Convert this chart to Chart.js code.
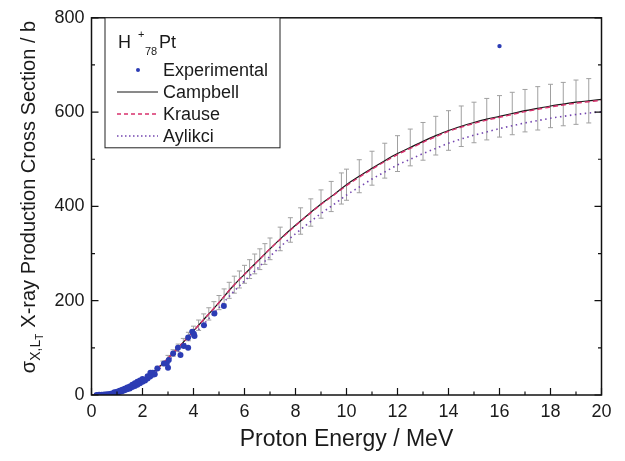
<!DOCTYPE html>
<html>
<head>
<meta charset="utf-8">
<script src="https://cdn.jsdelivr.net/npm/chart.js@4.4.1/dist/chart.umd.min.js"></script>
<style>
html,body{margin:0;padding:0;background:#fff;}
#wrap{width:625px;height:461px;position:relative;}
</style>
</head>
<body>
<div id="wrap"><canvas id="c" width="625" height="461"></canvas></div>
<script>
// ---- data ----
const energies = [0,0.5,1,1.5,2,2.5,3,3.5,4,4.5,5,5.5,6,6.5,7,7.5,8,8.5,9,9.5,10,10.5,11,11.5,12,12.5,13,13.5,14,14.5,15,15.5,16,16.5,17,17.5,18,18.5,19,19.5,20];
const campbell = [0,1,6,16,32,52,78,106,136,166,196,228,256,283,310,336,360,383,405,425,446,464,481,497,512,525,538,550,561,570,578,585,591,597,603,608,613,617,621,624,627];
const krause   = [0,1,6,16,32,52,78,106,136,166,196,228,256,283,310,335,359,382,404,424,444,462,479,495,510,523,536,548,559,568,576,583,589,595,601,606,611,615,619,622,625];
const aylikci  = [0,1,5,14,29,48,72,99,127,156,185,215,242,268,294,319,342,364,385,404,424,441,458,473,488,500,512,523,534,543,551,558,565,571,577,582,587,591,595,598,601];

const expX = [0.2,0.3,0.4,0.5,0.6,0.7,0.8,0.9,1.0,1.1,1.2,1.3,1.4,1.5,1.6,1.7,1.8,1.9,2.0,2.1,2.2,2.3,2.4,
              0.9,1.0,1.1,1.2,1.3,1.4,1.5,1.6,1.7,1.8,1.9,2.0,2.2,2.4,
              2.05,2.31,2.48,2.58,2.84,2.95,3.0,3.03,3.2,3.39,3.49,3.62,3.79,3.79,3.95,4.01,4.04,4.41,4.82,5.19,16.0];
const expY = [0,0.3,0.6,1,1.5,2.2,3,4,5,6.5,8,10,12,14,17,19,22,25,28,31,35,39,43,
              6,7,9,11,13,16,18,22,25,28,31,34,40,47,
              32,47,44,56,67,67,58,74,88,100,85,104,100,122,134,130,125,148,173,189,740];

const errX    = [1.6,1.8,2.0,2.2,2.4,2.6,2.8,3.0,3.2,3.4,3.6,3.8,4.0,4.2,4.4,4.6,4.8,5.0,5.2,5.4,5.6,5.8,6.0,6.2,6.4,6.6,6.8,7.0,7.4,7.8,8.2,8.6,9.0,9.4,9.8,10.0,10.5,11,11.5,12,12.5,13,13.5,14,14.5,15,15.5,16,16.5,17,17.5,18,18.5,19,19.5];
const errLow  = [20,27,30,37,44,53,62,72,82,92,104,115,126,137,148,159,170,181,193,205,216,227,237,247,257,266,277,287,306,324,341,358,375,389,405,413,429,445,460,474,486,498,509,519,527,535,541,547,552,558,562,567,571,574,577];
const errHigh = [24,31,34,43,52,61,72,84,96,108,120,133,146,159,172,185,198,211,225,239,252,263,275,287,299,310,321,333,356,376,397,416,435,453,471,479,499,517,534,550,564,578,591,603,613,621,629,635,642,648,654,659,663,668,671];

const xTicks = [0,2,4,6,8,10,12,14,16,18,20];
const yTicks = [0,200,400,600,800];

const legendNames = ['Experimental','Campbell','Krause','Aylikci'];

// ---- styles ----
const FONT = '"Liberation Sans", Arial, sans-serif';
const C_EXP = '#2c3cb4';
const C_CAM = '#151515';
const C_KRA = '#d8306c';
const C_AYL = '#7446b0';
const C_ERR = '#a0a0a0';

const pts = (xs, ys) => xs.map((x, i) => ({x: x, y: ys[i]}));

const errorBars = {
  id: 'errorBars',
  beforeDatasetsDraw(chart) {
    const {ctx, scales: {x, y}, chartArea} = chart;
    ctx.save();
    ctx.beginPath();
    ctx.rect(chartArea.left, chartArea.top, chartArea.right - chartArea.left, chartArea.bottom - chartArea.top);
    ctx.clip();
    ctx.strokeStyle = C_ERR;
    ctx.lineWidth = 1;
    errX.forEach((e, i) => {
      const px = x.getPixelForValue(e);
      const y1 = y.getPixelForValue(errLow[i]);
      const y2 = y.getPixelForValue(errHigh[i]);
      ctx.beginPath();
      ctx.moveTo(px, y1); ctx.lineTo(px, y2);
      ctx.moveTo(px - 2.5, y1); ctx.lineTo(px + 2.5, y1);
      ctx.moveTo(px - 2.5, y2); ctx.lineTo(px + 2.5, y2);
      ctx.stroke();
    });
    ctx.restore();
  }
};

const frameAndDecor = {
  id: 'frameAndDecor',
  afterDraw(chart) {
    const {ctx, scales: {x, y}, chartArea: a} = chart;
    ctx.save();
    // ticks (inward)
    ctx.strokeStyle = '#111';
    ctx.lineWidth = 1.2;
    for (let v = 0; v <= 20; v += 1) {
      const px = x.getPixelForValue(v);
      const len = (v % 2 === 0) ? 7 : 3.5;
      ctx.beginPath();
      ctx.moveTo(px, a.bottom); ctx.lineTo(px, a.bottom - len);
      ctx.stroke();
    }
    for (let v = 0; v <= 800; v += 100) {
      const py = y.getPixelForValue(v);
      const len = (v % 200 === 0) ? 7 : 3.5;
      ctx.beginPath();
      ctx.moveTo(a.left, py); ctx.lineTo(a.left + len, py);
      ctx.moveTo(a.right, py); ctx.lineTo(a.right - len, py);
      ctx.stroke();
    }
    // frame
    ctx.lineWidth = 1.5;
    ctx.strokeStyle = '#111';
    ctx.strokeRect(a.left, a.top, a.right - a.left, a.bottom - a.top);

    // x title
    ctx.fillStyle = '#1a1a1a';
    ctx.font = '23px ' + FONT;
    ctx.textAlign = 'center';
    ctx.textBaseline = 'middle';
    ctx.fillText('Proton Energy / MeV', (a.left + a.right) / 2, 440);

    // y title with subscripts
    ctx.save();
    ctx.translate(35, 0);
    ctx.rotate(-Math.PI / 2);
    ctx.textAlign = 'left';
    ctx.textBaseline = 'alphabetic';
    const mainTxt = 'X-ray Production Cross Section / b';
    ctx.font = '20px ' + FONT;
    const wSig = ctx.measureText('σ').width;
    const wMain = ctx.measureText(mainTxt).width;
    ctx.font = '14px ' + FONT;
    const wSub = ctx.measureText('X,L').width;
    ctx.font = '10px ' + FONT;
    const wT = ctx.measureText('T').width;
    const gap = 6;
    const total = wSig + wSub + wT + gap + wMain;
    let sx = -197 - total / 2;
    ctx.font = '20px ' + FONT;
    ctx.fillText('σ', sx, 0); sx += wSig;
    ctx.font = '14px ' + FONT;
    ctx.fillText('X,L', sx, 5); sx += wSub;
    ctx.font = '10px ' + FONT;
    ctx.fillText('T', sx, 8); sx += wT + gap;
    ctx.font = '20px ' + FONT;
    ctx.fillText(mainTxt, sx, 0);
    ctx.restore();

    // legend box
    const bx = 105, by = a.top, bw = 175, bh = 130;
    ctx.fillStyle = '#fff';
    ctx.fillRect(bx, by, bw, bh);
    ctx.lineWidth = 1;
    ctx.strokeStyle = '#222';
    ctx.strokeRect(bx, by, bw, bh);
    ctx.fillStyle = '#1a1a1a';
    ctx.textAlign = 'left';
    ctx.textBaseline = 'alphabetic';
    ctx.font = '18px ' + FONT;
    ctx.fillText('H', 118, 48);
    ctx.font = '11px ' + FONT;
    ctx.fillText('+', 138, 38);
    ctx.fillText('78', 145, 55);
    ctx.font = '18px ' + FONT;
    ctx.fillText('Pt', 159, 48);

    const rows = [70, 92, 114, 136];
    ctx.textBaseline = 'middle';
    ctx.font = '18px ' + FONT;
    legendNames.forEach((n, i) => ctx.fillText(n, 163, rows[i] + 1));
    ctx.fillStyle = C_EXP;
    ctx.beginPath(); ctx.arc(138, rows[0], 2, 0, Math.PI * 2); ctx.fill();
    ctx.lineWidth = 1;
    ctx.strokeStyle = C_CAM;
    ctx.beginPath(); ctx.moveTo(117, rows[1]); ctx.lineTo(158, rows[1]); ctx.stroke();
    ctx.lineWidth = 1.4;
    ctx.strokeStyle = C_KRA; ctx.setLineDash([4, 3]);
    ctx.beginPath(); ctx.moveTo(117, rows[2]); ctx.lineTo(158, rows[2]); ctx.stroke();
    ctx.strokeStyle = C_AYL; ctx.setLineDash([1.5, 2.5]);
    ctx.beginPath(); ctx.moveTo(117, rows[3]); ctx.lineTo(158, rows[3]); ctx.stroke();
    ctx.setLineDash([]);
    ctx.restore();
  }
};

new Chart(document.getElementById('c'), {
  type: 'scatter',
  data: {
    datasets: [
      { label: legendNames[0], data: pts(expX, expY), showLine: false,
        backgroundColor: C_EXP, borderColor: C_EXP, borderWidth: 0,
        pointRadius: ctx => (ctx.raw && ctx.raw.x > 10) ? 2.2 : 3, order: 0 },
      { label: legendNames[2], data: pts(energies, krause), showLine: true, pointRadius: 0,
        borderColor: C_KRA, borderWidth: 1.4, borderDash: [5, 3], cubicInterpolationMode: 'monotone', order: 1 },
      { label: legendNames[1], data: pts(energies, campbell), showLine: true, pointRadius: 0,
        borderColor: C_CAM, borderWidth: 1.2, cubicInterpolationMode: 'monotone', order: 2 },
      { label: legendNames[3], data: pts(energies, aylikci), showLine: true, pointRadius: 0,
        borderColor: C_AYL, borderWidth: 1.6, borderDash: [1.5, 3.5], cubicInterpolationMode: 'monotone', order: 3 }
    ]
  },
  options: {
    responsive: false,
    animation: false,
    events: [],
    layout: { padding: { left: 0, right: 23.5, top: 17, bottom: 0 } },
    plugins: { legend: { display: false }, tooltip: { enabled: false } },
    scales: {
      x: {
        type: 'linear', min: 0, max: 20,
        afterBuildTicks: s => { s.ticks = xTicks.map(v => ({value: v})); },
        afterFit: s => { s.height = 66; },
        grid: { display: false, drawTicks: false },
        border: { display: false },
        ticks: { padding: 6, color: '#1a1a1a', font: { size: 18, family: FONT }, maxRotation: 0, autoSkip: false }
      },
      y: {
        type: 'linear', min: 0, max: 800,
        afterBuildTicks: s => { s.ticks = yTicks.map(v => ({value: v})); },
        afterFit: s => { s.width = 91.5; },
        grid: { display: false, drawTicks: false },
        border: { display: false },
        ticks: { padding: 7, color: '#1a1a1a', font: { size: 18, family: FONT } }
      }
    }
  },
  plugins: [errorBars, frameAndDecor]
});
</script>
</body>
</html>
